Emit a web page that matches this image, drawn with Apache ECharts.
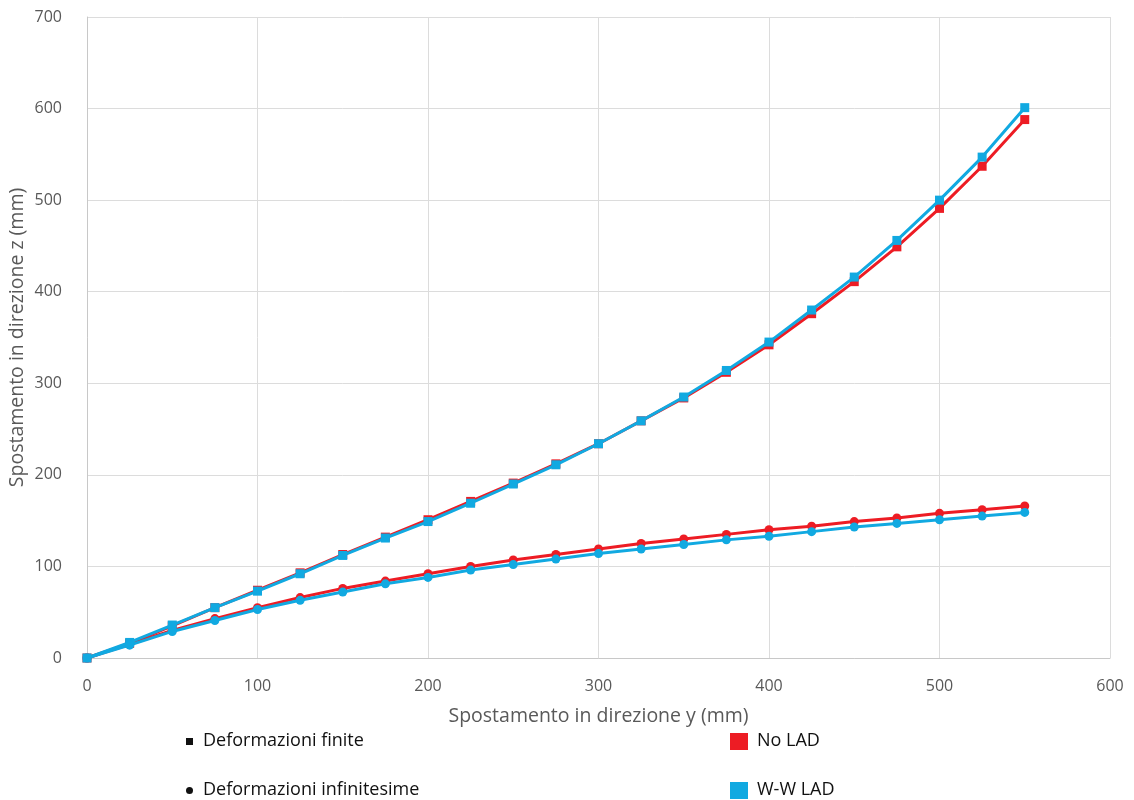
<!DOCTYPE html>
<html>
<head>
<meta charset="utf-8">
<script src="https://cdn.jsdelivr.net/npm/echarts@6/dist/echarts.min.js"></script>
<style>
  html, body { margin: 0; padding: 0; background: #fff; }
  #chart { width: 1134px; height: 800px; }
</style>
</head>
<body>
<div id="chart"></div>
<script>
// Horizontal displacement (mm) at each load step
const yDisp = [0, 25, 50, 75, 100, 125, 150, 175, 200, 225, 250, 275, 300, 325, 350, 375, 400, 425, 450, 475, 500, 525, 550];

// Vertical displacement (mm), finite strains
const finiteNoLAD = [0, 16, 35, 55, 74, 93, 113, 132, 151, 171, 191, 212, 234, 259, 284, 312, 342, 376, 411, 449, 491, 537, 588];
const finiteWW    = [0, 17, 36, 55, 73, 92, 112, 131, 149, 169, 190, 211, 234, 259, 285, 314, 345, 380, 416, 456, 500, 547, 601];

// Vertical displacement (mm), infinitesimal strains
const infNoLAD = [0, 15, 30, 43, 55, 66, 76, 84, 92, 100, 107, 113, 119, 125, 130, 135, 140, 144, 149, 153, 158, 162, 166];
const infWW    = [0, 14, 29, 41, 53, 63, 72, 81, 88, 96, 102, 108, 114, 119, 124, 129, 133, 138, 143, 147, 151, 155, 159];

const xTicks = { min: 0, max: 600, interval: 100 };
const yTicks = { min: 0, max: 700, interval: 100 };

const RED = '#ED1C24';
const BLUE = '#11A9E1';
const FONT = '"Open Sans", "Noto Sans", sans-serif';

function pairs(ys) { return yDisp.map((x, i) => [x, ys[i]]); }

function lineSeries(name, ys, color, symbol, z) {
  return {
    name, type: 'line', data: pairs(ys), z,
    symbol, symbolSize: 9,
    showSymbol: true,
    lineStyle: { color, width: 3 },
    itemStyle: { color },
    emphasis: { disabled: true },
    animation: false
  };
}

const chart = echarts.init(document.getElementById('chart'));
chart.setOption({
  backgroundColor: '#fff',
  animation: false,
  grid: { left: 87, right: 24, top: 17, bottom: 142, containLabel: false, outerBoundsMode: 'none' },
  xAxis: {
    type: 'value', min: xTicks.min, max: xTicks.max, interval: xTicks.interval,
    name: 'Spostamento in direzione y (mm)', nameLocation: 'middle', nameGap: 48, nameMoveOverlap: false,
    nameTextStyle: { fontFamily: FONT, fontSize: 19.5, color: '#595959' },
    axisLine: { show: true, lineStyle: { color: '#c8c8c8', width: 1 } },
    axisTick: { show: false },
    axisLabel: { fontFamily: FONT, fontSize: 16, color: '#595959', margin: 20 },
    splitLine: { show: true, lineStyle: { color: '#dcdcdc', width: 1 } }
  },
  yAxis: {
    type: 'value', min: yTicks.min, max: yTicks.max, interval: yTicks.interval,
    name: 'Spostamento in direzione z (mm)', nameLocation: 'middle', nameGap: 60, nameRotate: 90, nameMoveOverlap: false,
    nameTextStyle: { fontFamily: FONT, fontSize: 19.5, color: '#595959' },
    axisLine: { show: true, lineStyle: { color: '#c8c8c8', width: 1 } },
    axisTick: { show: false },
    axisLabel: { fontFamily: FONT, fontSize: 16, color: '#595959', margin: 25 },
    splitLine: { show: true, lineStyle: { color: '#dcdcdc', width: 1 } }
  },
  series: [
    lineSeries('No LAD - finite', finiteNoLAD, RED, 'rect', 2),
    lineSeries('No LAD - infinitesime', infNoLAD, RED, 'circle', 2),
    lineSeries('W-W LAD - finite', finiteWW, BLUE, 'rect', 3),
    lineSeries('W-W LAD - infinitesime', infWW, BLUE, 'circle', 3)
  ],
  graphic: [
    { type: 'rect', left: 186, top: 738, shape: { width: 7, height: 7 }, style: { fill: '#111' } },
    { type: 'text', left: 203, top: 732, style: { text: 'Deformazioni finite', font: '18px ' + FONT, fill: '#111' } },
    { type: 'circle', left: 186, top: 787, shape: { r: 3.5 }, style: { fill: '#111' } },
    { type: 'text', left: 203, top: 781, style: { text: 'Deformazioni infinitesime', font: '18px ' + FONT, fill: '#111' } },
    { type: 'rect', left: 730, top: 733, shape: { width: 18, height: 17 }, style: { fill: RED } },
    { type: 'text', left: 757, top: 732, style: { text: 'No LAD', font: '18px ' + FONT, fill: '#111' } },
    { type: 'rect', left: 730, top: 782, shape: { width: 18, height: 17 }, style: { fill: BLUE } },
    { type: 'text', left: 757, top: 781, style: { text: 'W-W LAD', font: '18px ' + FONT, fill: '#111' } }
  ]
});
</script>
</body>
</html>
